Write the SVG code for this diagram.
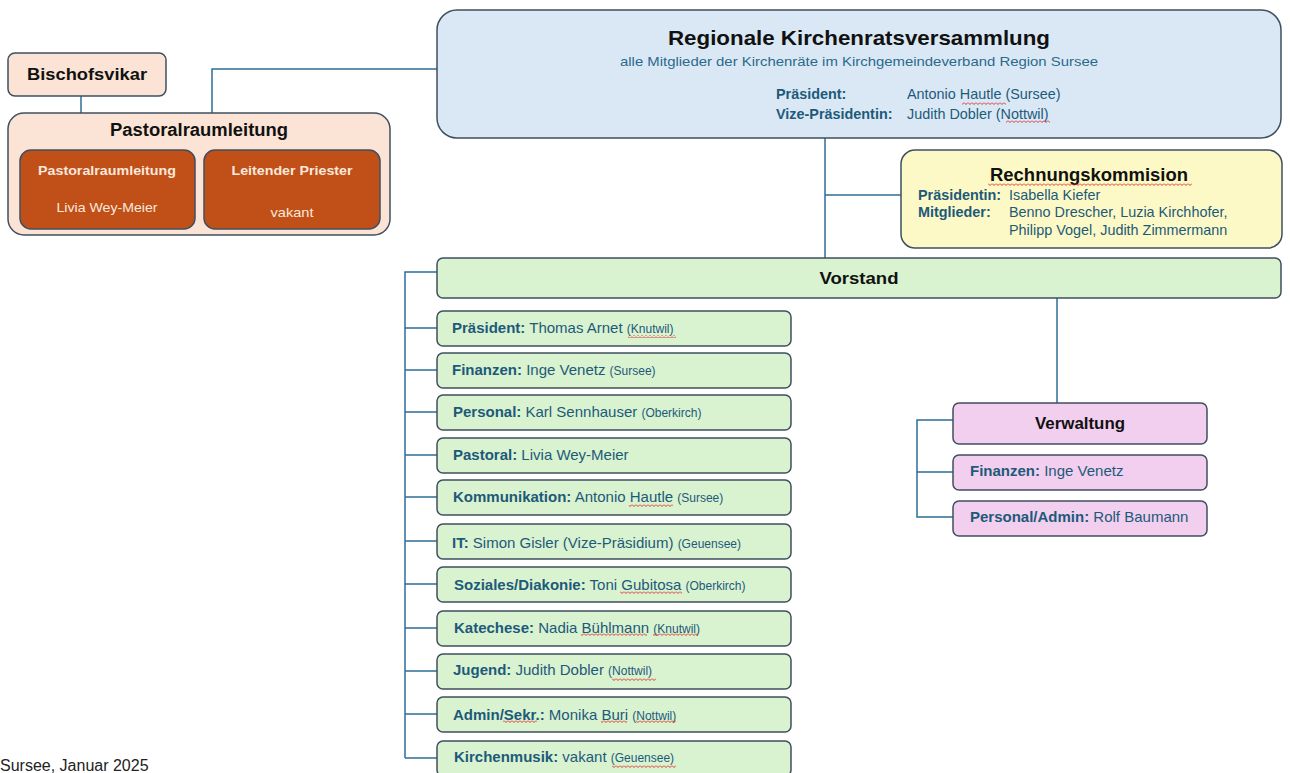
<svg xmlns="http://www.w3.org/2000/svg" width="1290" height="773" viewBox="0 0 1290 773">
<defs>
<pattern id="wave" width="4" height="3" patternUnits="userSpaceOnUse"><path d="M0 0.5L2 2.5L4 0.5" stroke="#e02020" stroke-width="0.9" fill="none"/></pattern>
</defs>
<style>
.box{stroke:#3f4f5f;stroke-width:1.5}
.peach{fill:#fbe4d5}
.brown{fill:#c05018}
.blue{fill:#dae8f5}
.yellow{fill:#fcf9c6}
.green{fill:#d9f2d0}
.pink{fill:#f2cfee}
.conn{fill:none;stroke:#2e6e96;stroke-width:1.5}
text{font-family:"Liberation Sans",Arial,sans-serif}
.t{fill:#111;font-weight:bold}
.w{fill:#fbe8dc;font-size:13px}
.b{fill:#1d5a7a;font-size:15px}
.m{fill:#1d5a7a;font-size:14.4px}
.bb{font-weight:bold}
.s{font-size:12px}
.sq{fill:url(#wave)}
</style>
<rect width="1290" height="773" fill="#ffffff"/>
<g id="connectors">
<path class="conn" d="M81 96V113"/>
<path class="conn" d="M212 113V69H437"/>
<path class="conn" d="M825 138V258"/>
<path class="conn" d="M825 195H901"/>
<path class="conn" d="M437 272H405V758"/>
<path class="conn" d="M405 328H437M405 370H437M405 412H437M405 455H437M405 497H437M405 541H437M405 584H437M405 628H437M405 671H437M405 714H437M405 758H437"/>
<path class="conn" d="M1057 298V403"/>
<path class="conn" d="M953 420H917V517H953M917 472H953"/>
</g>
<g id="bischofsvikar">
<rect class="box peach" x="8" y="53" width="158" height="43" rx="7"/>
<text class="t" x="87" y="80" font-size="17" text-anchor="middle" textLength="120" lengthAdjust="spacingAndGlyphs">Bischofsvikar</text>
</g>
<g id="pastoralraumleitung">
<rect class="box peach" x="8" y="113" width="382" height="122" rx="16"/>
<text class="t" x="199" y="136" font-size="18" text-anchor="middle" textLength="178" lengthAdjust="spacingAndGlyphs">Pastoralraumleitung</text>
</g>
<g id="pastoralraumleitung-person">
<rect class="box brown" x="20" y="150" width="175" height="79" rx="11"/>
<text class="w bb" x="107" y="175" text-anchor="middle" textLength="138" lengthAdjust="spacingAndGlyphs">Pastoralraumleitung</text>
<text class="w" x="107" y="212" text-anchor="middle" textLength="101" lengthAdjust="spacingAndGlyphs">Livia Wey-Meier</text>
</g>
<g id="leitender-priester">
<rect class="box brown" x="204" y="150" width="176" height="79" rx="11"/>
<text class="w bb" x="292" y="175" text-anchor="middle" textLength="121" lengthAdjust="spacingAndGlyphs">Leitender Priester</text>
<text class="w" x="292" y="217" text-anchor="middle" textLength="43" lengthAdjust="spacingAndGlyphs">vakant</text>
</g>
<g id="kirchenratsversammlung">
<rect class="box blue" x="437" y="10" width="844" height="128" rx="20"/>
<text class="t" x="859" y="45" font-size="21" text-anchor="middle" textLength="382" lengthAdjust="spacingAndGlyphs">Regionale Kirchenratsversammlung</text>
<text x="859" y="66" font-size="13" fill="#2a6a8c" text-anchor="middle" textLength="478" lengthAdjust="spacingAndGlyphs">alle Mitglieder der Kirchenräte im Kirchgemeindeverband Region Sursee</text>
<text class="m bb" x="776" y="99">Präsident:</text>
<text class="m" x="907" y="99">Antonio Hautle (Sursee)</text>
<text class="m bb" x="776" y="119">Vize-Präsidentin:</text>
<text class="m" x="907" y="119">Judith Dobler (Nottwil)</text>
<rect class="sq" x="962" y="102" width="44" height="3"/>
<rect class="sq" x="1006" y="120" width="44" height="3"/>
</g>
<g id="rechnungskommision">
<rect class="box yellow" x="901" y="150" width="381" height="98" rx="14"/>
<text class="t" x="1089" y="181" font-size="18" text-anchor="middle" textLength="198" lengthAdjust="spacingAndGlyphs">Rechnungskommision</text>
<rect class="sq" x="988" y="183" width="204" height="3"/>
<text class="m bb" x="918" y="200">Präsidentin:</text>
<text class="m" x="1009" y="200">Isabella Kiefer</text>
<text class="m bb" x="918" y="217">Mitglieder:</text>
<text class="m" x="1009" y="217">Benno Drescher, Luzia Kirchhofer,</text>
<text class="m" x="1009" y="235">Philipp Vogel, Judith Zimmermann</text>
</g>
<g id="vorstand">
<rect class="box green" x="437" y="258" width="844" height="40" rx="6"/>
<text class="t" x="859" y="284" font-size="16" text-anchor="middle" textLength="79" lengthAdjust="spacingAndGlyphs">Vorstand</text>
</g>
<g id="praesident">
<rect class="box green" x="437" y="311" width="354" height="35" rx="6"/>
<text class="b" x="452" y="333"><tspan class="bb">Präsident:</tspan> Thomas Arnet <tspan class="s">(Knutwil)</tspan></text>
<rect class="sq" x="628" y="335" width="48" height="3"/>
</g>
<g id="finanzen">
<rect class="box green" x="437" y="353" width="354" height="35" rx="6"/>
<text class="b" x="452" y="375"><tspan class="bb">Finanzen:</tspan> Inge Venetz <tspan class="s">(Sursee)</tspan></text>
</g>
<g id="personal">
<rect class="box green" x="437" y="395" width="354" height="35" rx="6"/>
<text class="b" x="453" y="417"><tspan class="bb">Personal:</tspan> Karl Sennhauser <tspan class="s">(Oberkirch)</tspan></text>
</g>
<g id="pastoral">
<rect class="box green" x="437" y="438" width="354" height="35" rx="6"/>
<text class="b" x="453" y="460"><tspan class="bb">Pastoral:</tspan> Livia Wey-Meier</text>
</g>
<g id="kommunikation">
<rect class="box green" x="437" y="480" width="354" height="35" rx="6"/>
<text class="b" x="453" y="502"><tspan class="bb">Kommunikation:</tspan> Antonio Hautle <tspan class="s">(Sursee)</tspan></text>
<rect class="sq" x="629" y="504" width="44" height="3"/>
</g>
<g id="it">
<rect class="box green" x="437" y="524" width="354" height="35" rx="6"/>
<text class="b" x="452" y="548"><tspan class="bb">IT:</tspan> Simon Gisler (Vize-Präsidium) <tspan class="s">(Geuensee)</tspan></text>
</g>
<g id="soziales">
<rect class="box green" x="437" y="567" width="354" height="35" rx="6"/>
<text class="b" x="454" y="590"><tspan class="bb">Soziales/Diakonie:</tspan> Toni Gubitosa <tspan class="s">(Oberkirch)</tspan></text>
<rect class="sq" x="620" y="591" width="62" height="3"/>
</g>
<g id="katechese">
<rect class="box green" x="437" y="611" width="354" height="35" rx="6"/>
<text class="b" x="454" y="633"><tspan class="bb">Katechese:</tspan> Nadia Bühlmann <tspan class="s">(Knutwil)</tspan></text>
<rect class="sq" x="581" y="633" width="66" height="3"/>
<rect class="sq" x="653" y="633" width="45" height="3"/>
</g>
<g id="jugend">
<rect class="box green" x="437" y="654" width="354" height="35" rx="6"/>
<text class="b" x="453" y="675"><tspan class="bb">Jugend:</tspan> Judith Dobler <tspan class="s">(Nottwil)</tspan></text>
<rect class="sq" x="612" y="678" width="44" height="3"/>
</g>
<g id="admin">
<rect class="box green" x="437" y="697" width="354" height="35" rx="6"/>
<text class="b" x="453" y="720"><tspan class="bb">Admin/Sekr.:</tspan> Monika Buri <tspan class="s">(Nottwil)</tspan></text>
<rect class="sq" x="503" y="720" width="34" height="3"/>
<rect class="sq" x="601" y="720" width="26" height="3"/>
<rect class="sq" x="636" y="720" width="40" height="3"/>
</g>
<g id="kirchenmusik">
<rect class="box green" x="437" y="741" width="354" height="35" rx="6"/>
<text class="b" x="454" y="762"><tspan class="bb">Kirchenmusik:</tspan> vakant <tspan class="s">(Geuensee)</tspan></text>
<rect class="sq" x="612" y="765" width="64" height="3"/>
</g>
<g id="verwaltung">
<rect class="box pink" x="953" y="403" width="254" height="41" rx="6"/>
<text class="t" x="1080" y="429" font-size="16" text-anchor="middle" textLength="90" lengthAdjust="spacingAndGlyphs">Verwaltung</text>
</g>
<g id="verwaltung-finanzen">
<rect class="box pink" x="953" y="455" width="254" height="35" rx="6"/>
<text class="b" x="970" y="476"><tspan class="bb">Finanzen:</tspan> Inge Venetz</text>
</g>
<g id="verwaltung-personal">
<rect class="box pink" x="953" y="501" width="254" height="35" rx="6"/>
<text class="b" x="970" y="522"><tspan class="bb">Personal/Admin:</tspan> Rolf Baumann</text>
</g>
<text x="0" y="771" font-size="16" fill="#222">Sursee, Januar 2025</text>
</svg>
